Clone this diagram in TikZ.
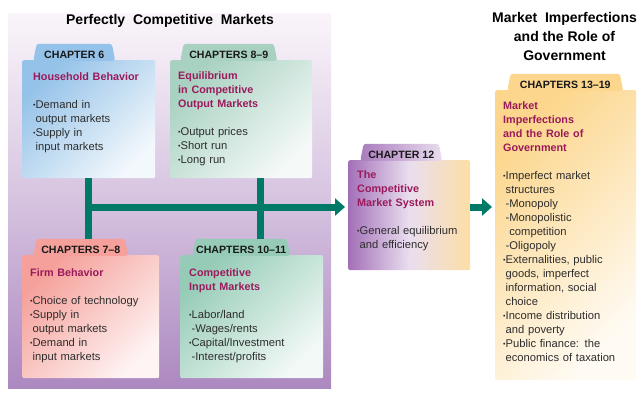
\documentclass[tikz,border=0pt]{standalone}
\usepackage{fontspec}
\setmainfont{Liberation Sans}
\newfontfamily\bodyfont{Liberation Sans}[WordSpace=0.7]
\usetikzlibrary{positioning,shapes.geometric,arrows.meta}

\definecolor{bgtop}{RGB}{250,245,250}
\definecolor{bgmid}{RGB}{214,195,224}
\definecolor{bgbot}{RGB}{172,136,192}
\definecolor{linkteal}{RGB}{0,122,104}
\definecolor{headred}{RGB}{155,26,92}
\definecolor{bodygray}{RGB}{45,45,45}
\definecolor{hhblue}{RGB}{148,194,232}
\definecolor{eqgreen}{RGB}{168,209,193}
\definecolor{firmpink}{RGB}{245,160,154}
\definecolor{inteal}{RGB}{150,204,183}
\definecolor{syspurple}{RGB}{163,112,184}
\definecolor{syslav}{RGB}{233,222,239}
\definecolor{sysorange}{RGB}{253,222,165}
\definecolor{govorange}{RGB}{252,214,140}

\tikzset{
    chapbox/.style={rectangle, rounded corners=2pt, inner sep=0pt, anchor=north west},
    tabshape/.style={trapezium, trapezium angle=74, trapezium stretches body,
        rounded corners=2.5pt, minimum height=17pt, inner sep=0pt,
        text height=12pt, text depth=0pt, text=black!90,
        font=\bfseries\fontsize{10.6}{12}\selectfont, anchor=bottom left corner},
    boxtext/.style={anchor=north west, inner sep=0pt, align=left, text width=132pt,
        text=bodygray, font=\bodyfont\fontsize{11.2}{14}\selectfont},
    link/.style={draw=linkteal, line width=7pt},
    arrowlink/.style={link, -{Triangle[length=10pt,width=17pt]}, shorten >=3pt},
    title/.style={font=\bfseries\fontsize{14}{19}\selectfont, align=center, inner sep=0pt}
}
\newcommand{\hd}[1]{{\bfseries\fontsize{10.8}{14}\selectfont\color{headred}#1}}
\newcommand{\bul}{\raisebox{.25ex}{\fontsize{7}{7}\selectfont\textbullet}}
\newcommand{\ind}{\hphantom{\bul}}

\begin{document}
\begin{tikzpicture}[x=1pt, y=-1pt]
    \useasboundingbox (0,0) rectangle (640,394);
    % panel behind the four markets
    \shade[top color=bgtop, bottom color=bgbot, middle color=bgmid] (8,13) rectangle (331,388);

    \node[title] (pcm) at (170,21) {Perfectly\ \ Competitive\ \ Markets};
    \node[title] (mirg) at (564.5,36.5) {Market\ \ Imperfections\\and the Role of\\Government};

    % chapter 6
    \node[chapbox, minimum width=133pt, minimum height=118pt,
        top color=hhblue, bottom color=hhblue!12!white, shading angle=45] (hh) at (22,60) {};
    \node[tabshape, fill=hhblue, minimum width=82pt] (hhtab) at ([shift={(11,1)}]hh.north west) {CHAPTER 6};
    \node[boxtext, below right=12.5pt and 11pt of hh.north west] (hhtxt) {\hd{Household Behavior}\\[14pt]
        \bul Demand in\\ \ind output markets\\ \bul Supply in\\ \ind input markets};

    % chapters 8-9
    \node[chapbox, minimum width=142pt, minimum height=118pt,
        top color=eqgreen, bottom color=eqgreen!12!white, shading angle=45] (eq) at (170,60) {};
    \node[tabshape, fill=eqgreen, minimum width=97pt] (eqtab) at ([shift={(10,1)}]eq.north west) {CHAPTERS 8–9};
    \node[boxtext, below right=11.5pt and 8pt of eq.north west] (eqtxt) {\hd{Equilibrium\\in Competitive\\Output Markets}\\[14pt]
        \bul Output prices\\ \bul Short run\\ \bul Long run};

    % chapters 7-8
    \node[chapbox, minimum width=137pt, minimum height=123pt,
        top color=firmpink, bottom color=firmpink!12!white, shading angle=45] (firm) at (22,255) {};
    \node[tabshape, fill=firmpink, minimum width=95pt] (firmtab) at ([shift={(11,1)}]firm.north west) {CHAPTERS 7–8};
    \node[boxtext, below right=13.5pt and 8pt of firm.north west] (firmtxt) {\hd{Firm Behavior}\\[14pt]
        \bul Choice of technology\\ \bul Supply in\\ \ind output markets\\ \bul Demand in\\ \ind input markets};

    % chapters 10-11
    \node[chapbox, minimum width=143pt, minimum height=123pt,
        top color=inteal, bottom color=inteal!12!white, shading angle=45] (inp) at (180,255) {};
    \node[tabshape, fill=inteal, minimum width=98pt] (inptab) at ([shift={(12,1)}]inp.north west) {CHAPTERS 10–11};
    \node[boxtext, below right=13.5pt and 9pt of inp.north west] (inptxt) {\hd{Competitive\\Input Markets}\\[14pt]
        \bul Labor/land\\ \ind-Wages/rents\\ \bul Capital/Investment\\ \ind-Interest/profits};

    % chapter 12
    \node[chapbox, minimum width=122pt, minimum height=110pt,
        left color=syspurple, right color=sysorange, middle color=syslav] (sys) at (348,160) {};
    \node[tabshape, left color=syspurple!90!syslav, right color=syslav, minimum width=82pt] (systab)
        at ([shift={(12,1)}]sys.north west) {CHAPTER 12};
    \node[boxtext, below right=10.5pt and 9pt of sys.north west] (systxt) {\hd{The\\Competitive\\Market System}\\[14pt]
        \bul General equilibrium\\ \ind and efficiency};

    % chapters 13-19
    \node[chapbox, minimum width=141pt, minimum height=290pt,
        top color=govorange, bottom color=govorange!10!white, shading angle=45] (gov) at (495,90) {};
    \node[tabshape, fill=govorange, minimum width=116pt] (govtab) at ([shift={(12,1)}]gov.north west) {CHAPTERS 13–19};
    \node[boxtext, below right=11.5pt and 8pt of gov.north west] (govtxt) {\hd{Market\\Imperfections\\and the Role of\\Government}\\[14pt]
        \bul Imperfect market\\ \ind structures\\ \ind-Monopoly\\ \ind-Monopolistic\\ \ind\hphantom{-}competition\\ \ind-Oligopoly\\
        \bul Externalities, public\\ \ind goods, imperfect\\ \ind information, social\\ \ind choice\\
        \bul Income distribution\\ \ind and poverty\\ \bul Public finance: the\\ \ind economics of taxation};

    % connectors
    \coordinate (bus) at (0,207);
    \coordinate (eqjoin) at ([xshift=19pt]eq.south);
    \draw[link] (hh.south) -- (hh.south |- firmtab.north);
    \draw[link] (eqjoin) -- (eqjoin |- inptab.north);
    \draw[arrowlink] (hh.south |- bus) -- (sys.west |- bus);
    \draw[arrowlink] (sys.east |- bus) -- (gov.west |- bus);
\end{tikzpicture}
\end{document}
